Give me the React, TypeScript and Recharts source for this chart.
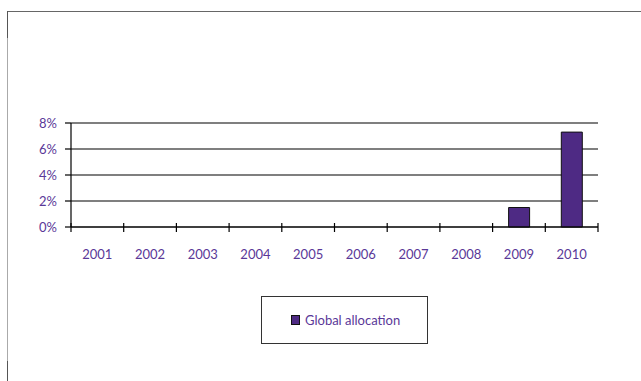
import { BarChart, Bar, XAxis, YAxis, CartesianGrid, Legend } from 'recharts';

const years = ['2001', '2002', '2003', '2004', '2005', '2006', '2007', '2008', '2009', '2010'];
const globalAllocation = [0, 0, 0, 0, 0, 0, 0, 0, 1.5, 7.3];
const yTicks = [0, 2, 4, 6, 8];

const data = years.map((year, i) => ({ year, global: globalAllocation[i] }));

const TEXT = '#5a3898';
const BAR = '#4e2a84';
const FONT = 'Lato, "Open Sans", sans-serif';

// plot geometry used only for the boundary tick marks
const PLOT_LEFT = 71;
const PLOT_RIGHT = 598;
const PLOT_BOTTOM = 227;
const HALF_BAND = (PLOT_RIGHT - PLOT_LEFT) / years.length / 2;

function YearTick(props: any) {
  const { x, payload, index } = props;
  const last = index === years.length - 1;
  return (
    <g>
      <line x1={x - HALF_BAND} x2={x - HALF_BAND} y1={PLOT_BOTTOM - 4} y2={PLOT_BOTTOM + 5} stroke="#000" strokeWidth={1.2} />
      {last && (
        <line x1={x + HALF_BAND} x2={x + HALF_BAND} y1={PLOT_BOTTOM - 4} y2={PLOT_BOTTOM + 5} stroke="#000" strokeWidth={1.2} />
      )}
      <text x={x} y={PLOT_BOTTOM + 32} textAnchor="middle" fill={TEXT} fontSize={13} fontFamily={FONT}>
        {payload.value}
      </text>
    </g>
  );
}

function LegendBox() {
  return (
    <div
      style={{
        boxSizing: 'border-box',
        width: 167,
        height: 48,
        border: '1px solid #333',
        background: '#fff',
        display: 'flex',
        alignItems: 'center',
        paddingLeft: 29,
        fontFamily: FONT,
        fontSize: 13,
        color: TEXT,
      }}
    >
      <span
        style={{
          display: 'inline-block',
          width: 7,
          height: 8,
          background: BAR,
          border: '1px solid #111',
          marginRight: 5,
        }}
      />
      Global allocation
    </div>
  );
}

export default function App() {
  return (
    <div style={{ position: 'absolute', left: 0, top: 0, width: 641, height: 381, background: '#fff' }}>
      {/* page frame */}
      <div
        style={{
          position: 'absolute',
          left: 7,
          top: 11,
          right: 0,
          bottom: 0,
          borderTop: '1px solid #666',
          borderLeft: '1px solid #aaa',
        }}
      />
      <div style={{ position: 'absolute', left: 7, top: 11, width: 1, height: 27, background: '#555' }} />
      <div style={{ position: 'absolute', left: 7, top: 361, width: 1, height: 20, background: '#555' }} />
      <BarChart
        width={641}
        height={381}
        data={data}
        margin={{ top: 123, right: 43, bottom: 76, left: 10 }}
        style={{ position: 'absolute', left: 0, top: 0 }}
      >
        <CartesianGrid vertical={false} stroke="#000" strokeWidth={1.2} strokeOpacity={1} />
        <XAxis
          dataKey="year"
          height={30}
          axisLine={{ stroke: '#000', strokeWidth: 1.2 }}
          tickLine={false}
          tick={<YearTick />}
          interval={0}
        />
        <YAxis
          width={61}
          domain={[0, 8]}
          ticks={yTicks}
          tickFormatter={(v: number) => `${v}%`}
          axisLine={{ stroke: '#000', strokeWidth: 1.2 }}
          tickLine={{ stroke: '#000', strokeWidth: 1.2 }}
          tickSize={6}
          tickMargin={8}
          tick={{ fill: TEXT, fontSize: 13, fontFamily: FONT }}
          interval={0}
        />
        <YAxis
          yAxisId="frame"
          orientation="right"
          width={0}
          domain={[0, 8]}
          tick={false}
          tickLine={false}
          axisLine={{ stroke: '#777', strokeWidth: 1.2 }}
        />
        <Bar
          dataKey="global"
          name="Global allocation"
          fill={BAR}
          stroke="#111"
          barSize={21}
          isAnimationActive={false}
        />
        <Legend
          content={<LegendBox />}
          wrapperStyle={{ position: 'absolute', left: 261, top: 296, width: 167, height: 48 }}
        />
      </BarChart>
    </div>
  );
}
